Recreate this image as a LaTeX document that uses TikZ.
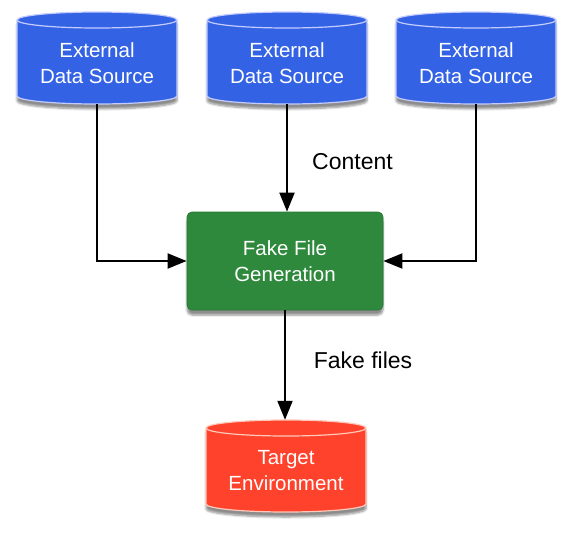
\documentclass[tikz,border=0pt]{standalone}
\usepackage{fontspec}
\setmainfont{Liberation Sans}
\usetikzlibrary{arrows.meta,shadows.blur}
\definecolor{dsblue}{RGB}{51,99,228}
\definecolor{dsblueedge}{RGB}{196,204,255}
\definecolor{fggreen}{RGB}{46,137,60}
\definecolor{fggreenedge}{RGB}{40,122,52}
\definecolor{tgred}{RGB}{255,66,44}
\definecolor{tgrededge}{RGB}{255,200,185}
\tikzset{
 cylbody/.style={line width=1.2pt, blur shadow={shadow xshift=0pt, shadow yshift=-5pt, shadow blur steps=6, shadow opacity=45}},
 cylhit/.style={minimum width=160pt, minimum height=92pt, inner sep=0pt, draw=none},
 boxtext/.style={text=white, align=center, font=\fontsize{20.5}{26}\selectfont, inner sep=0pt},
 fgbox/.style={fill=fggreen, draw=fggreenedge, line width=0.8pt, rounded corners=5pt, minimum width=196pt, minimum height=98pt, text=white, align=center, font=\fontsize{20.5}{26}\selectfont, inner sep=0pt, blur shadow={shadow xshift=0pt, shadow yshift=-5pt, shadow blur steps=6, shadow opacity=45}},
 flow/.style={line width=2pt, -{Triangle[length=19pt,width=15pt]}},
 lbl/.style={font=\fontsize{23}{28}\selectfont, inner sep=0pt},
}
\newcommand\dbcyl[6]{%
\begin{scope}[shift={(#2,#3)}]
\path[cylbody, fill=#4, draw=#5] (-80,38) -- (-80,-38) arc[start angle=180,end angle=360,x radius=80pt,y radius=8pt] -- (80,38) arc[start angle=0,end angle=180,x radius=80pt,y radius=8pt] -- cycle;
\draw[line width=1.2pt, #5] (-80,38) arc[start angle=180,end angle=360,x radius=80pt,y radius=8pt];
\end{scope}
\node[cylhit] (#1) at (#2,#3) {};
\node[boxtext] (#1-t) at (#2,#3-5) {#6};
}
\begin{document}
\begin{tikzpicture}[x=1pt,y=1pt]
\useasboundingbox (0,0) rectangle (573,-541);
\dbcyl{c1}{97}{-58}{dsblue}{dsblueedge}{External\\Data Source}
\dbcyl{c2}{287}{-58}{dsblue}{dsblueedge}{External\\Data Source}
\dbcyl{c3}{476}{-58}{dsblue}{dsblueedge}{External\\Data Source}
\node[fgbox] (fg) at (285,-261) {Fake File\\Generation};
\dbcyl{tg}{286}{-466}{tgred}{tgrededge}{Target\\Environment}
\draw[flow] (c1.south) |- (fg.west);
\draw[flow] (c3.south) |- (fg.east);
\draw[flow] (c2.south) -- (c2.south |- fg.north);
\draw[flow] (fg.south) -- (fg.south |- tg.north);
\node[lbl] (lc) at (352.5,-161.5) {Content};
\node[lbl] (lf) at (363,-360) {Fake files};
\end{tikzpicture}
\end{document}
